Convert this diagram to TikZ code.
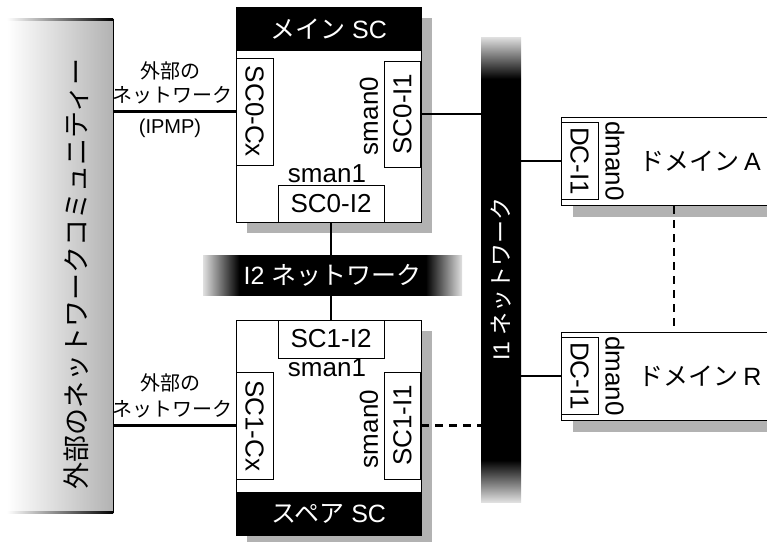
\documentclass[tikz,border=0pt]{standalone}
\usepackage{fontspec}
\setmainfont{Liberation Sans}
\newfontfamily\jp{Noto Sans CJK JP}
\usetikzlibrary{shadows}

\pgfdeclarehorizontalshading{hbar}{100bp}{color(0bp)=(black!12); color(25bp)=(black!12); color(32bp)=(black); color(68bp)=(black); color(75bp)=(black!12); color(100bp)=(black!12)}
\pgfdeclareverticalshading{vbar}{100bp}{color(0bp)=(black!12); color(25bp)=(black!12); color(29.5bp)=(black); color(70.5bp)=(black); color(75bp)=(black!12); color(100bp)=(black!12)}

\tikzset{
  box/.style={draw, fill=white, line width=1pt, inner sep=0pt,
    drop shadow={shadow xshift=11pt, shadow yshift=-11pt, fill=black!30, opacity=1}},
  port/.style={draw, fill=white, line width=1pt, inner sep=0pt, font=\fontsize{26}{28}\selectfont},
  lab/.style={inner sep=0pt, font=\fontsize{26}{28}\selectfont},
  head/.style={fill=black, text=white, inner sep=0pt, font=\fontsize{25}{28}\selectfont},
  netbar/.style={shade, inner sep=0pt, text=white},
  wire/.style={line width=2.2pt},
  extlab/.style={inner sep=0pt, font=\jp\fontsize{20}{24}\selectfont}
}

\begin{document}
\begin{tikzpicture}[x=1pt,y=-1pt]
\useasboundingbox (0,0) rectangle (767,541);

% Draw the outside community as a shaded column
\node[shade, left color=white, right color=black!30, minimum width=106pt, minimum height=494pt, inner sep=0pt] (ext) at (60,266) {};
\shade[left color=white, right color=black] (ext.north west) rectangle ([yshift=-1.5pt]ext.north east);
\shade[left color=white, right color=black] (ext.south west) rectangle ([yshift=1.5pt]ext.south east);
\draw[line width=1pt] (ext.north east) -- (ext.south east);
\node[rotate=90, inner sep=0pt, font=\jp\fontsize{27}{28}\selectfont] (extname) at (76,274) {外部のネットワークコミュニティー};

% Draw the I1 and I2 networks
\node[netbar, shading=vbar, minimum width=40pt, minimum height=465pt] (i1net) at (501,269.5) {};
\node[rotate=90, text=white, inner sep=0pt, font=\fontsize{23}{26}\selectfont] (i1name) at (501,279) {I1 {\jp ネットワーク}};
\node[netbar, shading=hbar, minimum width=259pt, minimum height=40pt, font=\fontsize{25}{28}\selectfont] (i2net) at (332.5,275) {I2 {\jp ネットワーク}};

% Draw the main SC
\node[box, minimum width=185pt, minimum height=215pt] (mainsc) at (328.5,114.5) {};
\node[head, anchor=north, minimum width=185pt, minimum height=44pt] (mainhead) at (mainsc.north) {{\jp メイン}\hspace{7pt}SC};
\node[port, rotate=-90, minimum width=107pt, minimum height=37pt] (sc0cx) at (254.5,111.5) {SC0-Cx};
\node[port, rotate=90, minimum width=106pt, minimum height=36pt] (sc0i1) at (402.5,114) {SC0-I1};
\node[lab, rotate=90] (sc0sman0) at (369,116) {sman0};
\node[lab] (sc0sman1) at (327,174) {sman1};
\node[port, minimum width=106pt, minimum height=37pt] (sc0i2) at (331,203.5) {SC0-I2};

% Draw the spare SC
\node[box, minimum width=185pt, minimum height=215pt] (sparesc) at (328.5,427.5) {};
\node[head, anchor=south, minimum width=185pt, minimum height=43pt] (sparehead) at (sparesc.south) {{\jp スペア}\hspace{7pt}SC};
\node[port, minimum width=106pt, minimum height=38pt] (sc1i2) at (331,339) {SC1-I2};
\node[lab] (sc1sman1) at (327,368) {sman1};
\node[port, rotate=-90, minimum width=107pt, minimum height=37pt] (sc1cx) at (254.5,425.5) {SC1-Cx};
\node[port, rotate=90, minimum width=107pt, minimum height=36pt] (sc1i1) at (402.5,425.5) {SC1-I1};
\node[lab, rotate=90] (sc1sman0) at (369,429) {sman0};

% Draw the domains
\node[box, anchor=north west, minimum width=229pt, minimum height=88pt] (doma) at (561,117) {};
\node[port, rotate=-90, minimum width=77pt, minimum height=37pt] (dca) at (579.5,161) {DC-I1};
\node[lab, rotate=-90] (dmana) at (615,161) {dman0};
\node[inner sep=0pt, font=\fontsize{25}{28}\selectfont] (domaname) at (700,161) {{\jp ドメイン}\hspace{5pt}A};
\node[box, anchor=north west, minimum width=229pt, minimum height=88pt] (domr) at (561,332) {};
\node[port, rotate=-90, minimum width=77pt, minimum height=37pt] (dcr) at (579.5,376) {DC-I1};
\node[lab, rotate=-90] (dmanr) at (615,376) {dman0};
\node[inner sep=0pt, font=\fontsize{25}{28}\selectfont] (domrname) at (700,376) {{\jp ドメイン}\hspace{5pt}R};

% External network labels
\node[extlab] (ext0a) at (170,71) {外部の};
\node[extlab] (ext0b) at (172.5,95) {ネットワーク};
\node[inner sep=0pt, font=\fontsize{20}{24}\selectfont] (ipmp) at (170,128) {(IPMP)};
\node[extlab] (ext1a) at (170,383) {外部の};
\node[extlab] (ext1b) at (172.5,409) {ネットワーク};

% Connect everything
\draw[wire] (sc0cx) -- (sc0cx -| ext.east);
\draw[wire] (sc1cx) -- (sc1cx -| ext.east);
\draw[wire] (sc0i1) -- (sc0i1 -| i1net.west);
\draw[wire, dash pattern=on 8pt off 6pt] (sc1i1) -- (sc1i1 -| i1net.west);
\draw[wire] (sc0i2.south) -- (sc0i2.south |- i2net.north);
\draw[wire] (sc1i2.north |- i2net.south) -- (sc1i2.north);
\draw[wire] (dca) -- (dca -| i1net.east);
\draw[wire] (dcr) -- (dcr -| i1net.east);
\draw[wire, dash pattern=on 8pt off 6pt] ([xshift=113pt]doma.south west) -- ([xshift=113pt]domr.north west);

\end{tikzpicture}
\end{document}
